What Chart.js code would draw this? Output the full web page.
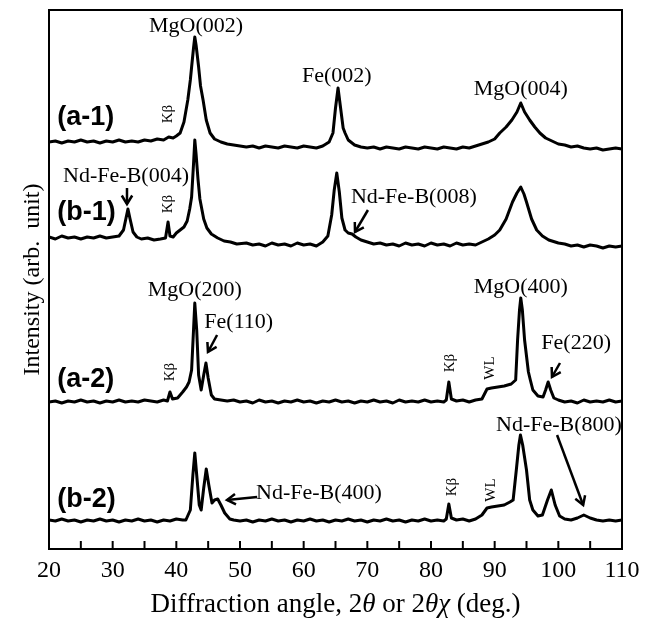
<!DOCTYPE html>
<html>
<head>
<meta charset="UTF-8">
<title>XRD patterns</title>
<script src="https://cdn.jsdelivr.net/npm/chart.js@4.4.1/dist/chart.umd.min.js"></script>
<style>
  html, body { margin: 0; padding: 0; background: #fff; }
</style>
</head>
<body>
<canvas id="myChart" width="652" height="621"></canvas>
<script>
// diffraction angle (deg) and intensity (arb. unit) for each trace
var a1Angle = [20,21,22,23,24,25,26,27,28,29,
  30,31,32,33,34,35,36,37,38,38.8,
  39.5,40,40.6,41.2,41.8,42.2,42.4,42.7,42.9,43.1,
  43.5,43.8,44.2,44.7,45.3,46,47,48,49,50,
  51,52,53,54,55,56,57,58,59,60,
  61,62,63,64,64.6,65,65.4,65.8,66.2,66.5,
  67,68,69,70,71,72,73,74,75,76,
  77,78,79,80,81,82,83,84,85,86,
  87,88,89,90,90.8,91.8,92.7,93.5,94.1,94.7,
  95.5,96.3,97.1,98,99,100,101,102,103,104,
  105,106,107,108,109,110];
var a1Int = [12,13,11,13,12,14,12,13,11,13,
  12,14,12,13,12,14,13,15,14,17,
  16,18,21,32,54,74,87,106,117,109,
  87,68,54,34,21,15,12,10,9,8,
  7,8,6,8,7,6,8,7,6,8,
  7,6,8,12,21,46,66,46,26,21,
  14,9,7,6,7,5,7,6,5,7,
  6,5,7,6,5,7,6,5,7,6,
  8,10,12,15,21,27,34,42,51,42,
  34,27,21,16,13,10,9,7,8,6,
  5,6,4,5,6,5];

var b1Angle = [20,21,22,23,24,25,26,27,28,29,
  30,31,31.7,32.1,32.4,32.7,33.2,33.8,34.5,35.5,
  36.5,37.5,38.3,38.7,39,39.5,40,40.6,41.2,41.7,
  42.1,42.4,42.7,42.9,43.1,43.4,43.7,44.3,44.8,45.5,
  46.5,47.5,48.5,49.5,51,52,53,54,55,56,
  57,58,59,60,61,62,63,63.8,64.4,64.8,
  65.2,65.6,66,66.5,67,67.6,68.2,69,70,71,
  72,73,74,75,76,77,78,79,80,81,
  82,83,84,85,86,87,88,89,90,90.8,
  91.8,92.8,93.5,94.1,94.6,95,95.8,96.6,97.5,98.5,
  100,101,102,103,104,105,106,107,108,109,
  110];
var b1Int = [12,10,13,11,12,10,12,11,13,11,
  12,13,19,31,40,31,17,12,10,11,
  9,10,11,27,13,12,16,19,22,28,
  40,52,85,109,95,70,50,30,21,15,
  11,8,7,5,6,4,5,3,6,4,
  5,3,6,4,5,3,7,13,34,59,
  76,57,31,19,16,15,12,9,7,5,
  6,4,5,3,6,4,5,3,6,4,
  5,3,6,4,5,4,7,10,14,19,
  30,47,56,62,55,47,30,19,13,9,
  6,5,3,4,2,4,3,1,3,2,
  3];

var a2Angle = [20,21,22,23,24,25,26,27,28,29,
  30,31,32,33,34,35,36,37,38,38.6,
  39,39.4,40.2,41,41.6,42,42.4,42.7,42.9,43.2,
  43.5,43.9,44.3,44.65,45,45.5,46,47,48,49,
  50,51,52,53,54,55,56,57,58,59,
  60,61,62,63,64,65,66,67,68,69,
  70,71,72,73,74,75,76,77,78,79,
  80,81,82,82.4,82.8,83.2,84,85,86,87,
  88,88.8,89.5,90.5,91.5,92.6,93.3,93.6,93.9,94.1,
  94.35,94.7,95.3,95.6,96,96.8,97.6,98,98.4,98.8,
  99.3,100,101,102,103,104,105,106,107,108,
  109,110];
var a2Int = [10,11,9,11,10,12,10,11,9,11,
  10,12,10,11,10,12,11,10,12,11,
  20,13,14,20,25,30,42,82,109,82,
  37,22,37,49,34,17,13,12,11,12,
  10,11,9,12,10,11,9,11,10,12,
  10,11,9,11,10,12,10,11,9,11,
  10,12,10,11,9,12,10,11,10,12,
  10,11,10,12,30,13,11,12,10,12,
  13,23,24,25,26,28,32,72,102,114,
  102,72,40,32,22,16,15,22,30,22,
  14,12,10,11,9,12,10,11,10,12,
  10,11];

var b2Angle = [20,21,22,23,24,25,26,27,28,29,
  30,31,32,33,34,35,36,37,38,39,
  40,41,41.5,42.2,42.6,42.9,43.2,43.6,43.9,44.3,
  44.7,45.1,45.6,46,46.5,47,47.6,48.4,49,50,
  51,52,53,54,55,56,57,58,59,60,
  61,62,63,64,65,66,67,68,69,70,
  71,72,73,74,75,76,77,78,79,80,
  81,82,82.4,82.8,83.2,84,85,86,87,88,
  88.8,89.5,90.5,91.5,92.4,92.9,93.4,93.8,94.05,94.4,
  95,95.5,96,96.8,97.5,98.3,98.9,99.5,100.2,101,
  102,103,104,105,106,107,108,109,110];
var b2Int = [10,9,11,9,10,8,10,9,11,9,
  10,8,10,9,11,9,10,8,10,9,
  11,10,10,20,55,77,55,25,20,42,
  61,45,27,30,31,25,17,11,10,9,
  10,8,10,9,11,9,10,8,10,9,
  11,9,10,8,10,9,11,9,10,8,
  10,9,11,9,10,8,10,9,11,9,
  10,9,11,26,12,10,11,9,11,15,
  22,23,24,25,28,30,60,85,95,85,
  60,30,20,14,15,30,40,25,14,11,
  10,12,15,12,10,9,10,9,10];

var sampleNames = ['(a-1)', '(b-1)', '(a-2)', '(b-2)'];
var traceOffsets = [395, 300, 137, 19];
var xTicks = [20, 30, 40, 50, 60, 70, 80, 90, 100, 110];

// annotations in data coordinates (angle, intensity)
var peakLabels = [
  { t: 'MgO(002)', x: 43.1, y: 523 },
  { t: 'Fe(002)', x: 65.2, y: 473 },
  { t: 'MgO(004)', x: 94.1, y: 460 },
  { t: 'Nd-Fe-B(004)', x: 32.1, y: 373 },
  { t: 'Nd-Fe-B(008)', x: 77.3, y: 352 },
  { t: 'MgO(200)', x: 42.9, y: 259 },
  { t: 'Fe(110)', x: 49.8, y: 227 },
  { t: 'MgO(400)', x: 94.1, y: 262 },
  { t: 'Fe(220)', x: 102.8, y: 206 },
  { t: 'Nd-Fe-B(800)', x: 100.1, y: 124 },
  { t: 'Nd-Fe-B(400)', x: 62.4, y: 56 }
];
var sideLabels = [
  { t: 'Kβ', x: 38.7, y: 435 },
  { t: 'Kβ', x: 38.7, y: 345 },
  { t: 'Kβ', x: 39.0, y: 177 },
  { t: 'Kβ', x: 83.0, y: 186 },
  { t: 'WL', x: 89.3, y: 181 },
  { t: 'Kβ', x: 83.3, y: 62 },
  { t: 'WL', x: 89.4, y: 59 }
];
var sampleLabelPos = [{ x: 21.3, y: 431 }, { x: 21.3, y: 336 }, { x: 21.3, y: 169 }, { x: 21.3, y: 49 }];
var arrows = [
  [32.25, 361, 32.25, 345],
  [70.1, 339, 68.06, 317],
  [46.4, 214, 44.97, 197],
  [100.26, 186, 99.0, 172],
  [99.8, 114, 103.9, 44],
  [52.7, 52, 47.96, 49]
];

var angles = [a1Angle, b1Angle, a2Angle, b2Angle];
var ints = [a1Int, b1Int, a2Int, b2Int];

function makeData(i) {
  return angles[i].map(function (a, k) { return { x: a, y: ints[i][k] + traceOffsets[i] }; });
}

var SERIF = '"Liberation Serif", "Times New Roman", serif';

function arrow(ctx, x1, y1, x2, y2) {
  ctx.beginPath(); ctx.moveTo(x1, y1); ctx.lineTo(x2, y2); ctx.stroke();
  var a = Math.atan2(y2 - y1, x2 - x1), h = 10, w = 0.55;
  ctx.beginPath();
  ctx.moveTo(x2 - h * Math.cos(a - w), y2 - h * Math.sin(a - w));
  ctx.lineTo(x2, y2);
  ctx.lineTo(x2 - h * Math.cos(a + w), y2 - h * Math.sin(a + w));
  ctx.stroke();
}

var decor = {
  id: 'decor',
  afterDraw: function (chart) {
    var ctx = chart.ctx, xs = chart.scales.x, ys = chart.scales.y, ca = chart.chartArea;
    ctx.save();
    ctx.strokeStyle = '#000';
    ctx.fillStyle = '#000';
    // frame and inward ticks
    ctx.lineWidth = 2;
    ctx.strokeRect(ca.left, ca.top, ca.right - ca.left, ca.bottom - ca.top);
    for (var v = 25; v < 110; v += 5) {
      var px = xs.getPixelForValue(v);
      ctx.beginPath(); ctx.moveTo(px, ca.bottom); ctx.lineTo(px, ca.bottom - 8); ctx.stroke();
    }
    // peak labels
    ctx.font = '22px ' + SERIF;
    ctx.textAlign = 'center';
    ctx.textBaseline = 'middle';
    peakLabels.forEach(function (p) {
      ctx.fillText(p.t, xs.getPixelForValue(p.x), ys.getPixelForValue(p.y));
    });
    // rotated Kβ / WL labels
    ctx.font = '15px ' + SERIF;
    sideLabels.forEach(function (p) {
      ctx.save();
      ctx.translate(xs.getPixelForValue(p.x), ys.getPixelForValue(p.y));
      ctx.rotate(-Math.PI / 2);
      ctx.fillText(p.t, 0, 0);
      ctx.restore();
    });
    // sample names
    ctx.font = 'bold 27px "Liberation Sans", Arial, sans-serif';
    ctx.textAlign = 'left';
    sampleNames.forEach(function (n, i) {
      ctx.fillText(n, xs.getPixelForValue(sampleLabelPos[i].x), ys.getPixelForValue(sampleLabelPos[i].y));
    });
    // arrows
    ctx.lineWidth = 2.5;
    arrows.forEach(function (r) {
      arrow(ctx, xs.getPixelForValue(r[0]), ys.getPixelForValue(r[1]),
        xs.getPixelForValue(r[2]), ys.getPixelForValue(r[3]));
    });
    // x title with italic greek
    var parts = [['Diffraction angle, 2', false], ['\u03B8', true], [' or 2', false], ['\u03B8\u03C7', true], [' (deg.)', false]];
    var total = 0;
    parts.forEach(function (p) {
      ctx.font = (p[1] ? 'italic ' : '') + '27px ' + SERIF;
      p.w = ctx.measureText(p[0]).width; total += p.w;
    });
    var tx = (ca.left + ca.right) / 2 - total / 2;
    ctx.textBaseline = 'alphabetic';
    parts.forEach(function (p) {
      ctx.font = (p[1] ? 'italic ' : '') + '27px ' + SERIF;
      ctx.fillText(p[0], tx, 612);
      tx += p.w;
    });
    // y title
    ctx.save();
    ctx.translate(39, (ca.top + ca.bottom) / 2);
    ctx.rotate(-Math.PI / 2);
    ctx.textAlign = 'center';
    ctx.font = '24px ' + SERIF;
    ctx.fillText('Intensity (arb.  unit)', 0, 0);
    ctx.restore();
    ctx.restore();
  }
};

var ctx = document.getElementById('myChart').getContext('2d');
var chart = new Chart(ctx, {
  type: 'line',
  data: {
    datasets: sampleNames.map(function (n, i) {
      return {
        label: n,
        data: makeData(i),
        borderColor: '#000',
        borderWidth: 3,
        borderJoinStyle: 'round',
        pointRadius: 0,
        tension: 0,
        fill: false
      };
    })
  },
  options: {
    responsive: false,
    animation: false,
    layout: { padding: { top: 10, right: 30, left: 49, bottom: 0 } },
    plugins: { legend: { display: false }, tooltip: { enabled: false } },
    scales: {
      x: {
        type: 'linear', min: 20, max: 110,
        afterBuildTicks: function (s) { s.ticks = xTicks.map(function (v) { return { value: v }; }); },
        grid: { display: false, drawTicks: false },
        border: { display: false },
        ticks: { padding: 7, color: '#000', maxRotation: 0, autoSkip: false, font: { family: 'Liberation Serif', size: 24 } },
        afterFit: function (s) { s.height = 72; }
      },
      y: { display: false, min: 0, max: 539 }
    }
  },
  plugins: [decor]
});
</script>
</body>
</html>
